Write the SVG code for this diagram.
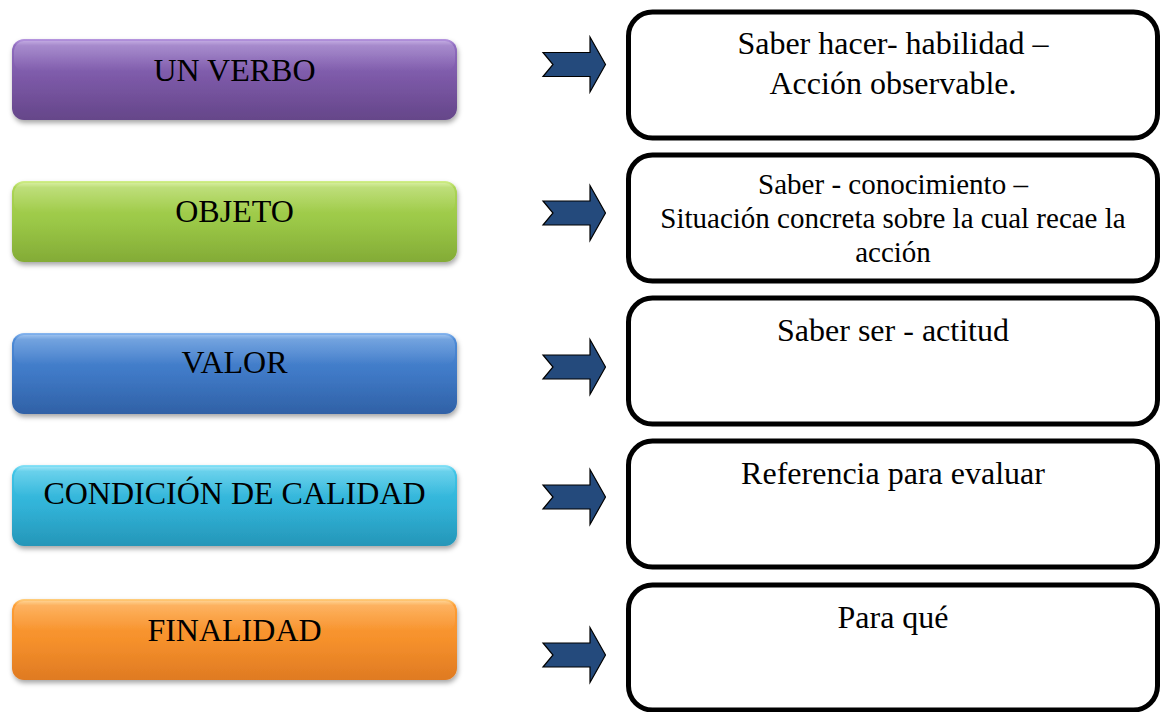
<svg xmlns="http://www.w3.org/2000/svg" xmlns:xlink="http://www.w3.org/1999/xlink" width="1161" height="712" viewBox="0 0 1161 712">
<defs>
<style>
.lbl,.desc,.desc2{font-family:'Liberation Serif',Tinos,'Times New Roman','DejaVu Serif',serif;fill:#000;text-anchor:middle}
.lbl{font-size:32px}
.desc{font-size:32px}
.desc2{font-size:29px}
.card{fill:#fff;stroke:#000;stroke-width:5}
.arrow{fill:#244a7c;stroke:#000;stroke-width:1.2;stroke-linejoin:miter}
.pill{filter:url(#sh)}
.gloss{fill:url(#gloss)}
</style>
<filter id="sh" x="-5%" y="-20%" width="110%" height="150%">
<feDropShadow dx="1" dy="3" stdDeviation="2.5" flood-color="#000" flood-opacity="0.35"/>
</filter>
<linearGradient id="gPurple" x1="0" y1="0" x2="0" y2="1">
<stop offset="0" stop-color="#b797e0"/>
<stop offset="0.08" stop-color="#8f6cbf"/>
<stop offset="0.5" stop-color="#7b58a6"/>
<stop offset="1" stop-color="#654689"/>
</linearGradient>
<linearGradient id="gGreen" x1="0" y1="0" x2="0" y2="1">
<stop offset="0" stop-color="#d2ef8a"/>
<stop offset="0.08" stop-color="#acd555"/>
<stop offset="0.5" stop-color="#9bc847"/>
<stop offset="1" stop-color="#83ab36"/>
</linearGradient>
<linearGradient id="gBlue" x1="0" y1="0" x2="0" y2="1">
<stop offset="0" stop-color="#8ab8f0"/>
<stop offset="0.08" stop-color="#4d8ad6"/>
<stop offset="0.5" stop-color="#3f79c6"/>
<stop offset="1" stop-color="#3061a6"/>
</linearGradient>
<linearGradient id="gCyan" x1="0" y1="0" x2="0" y2="1">
<stop offset="0" stop-color="#8ee4f8"/>
<stop offset="0.08" stop-color="#40c4e6"/>
<stop offset="0.5" stop-color="#31b3d8"/>
<stop offset="1" stop-color="#2596b8"/>
</linearGradient>
<linearGradient id="gOrange" x1="0" y1="0" x2="0" y2="1">
<stop offset="0" stop-color="#ffd080"/>
<stop offset="0.08" stop-color="#fd9d35"/>
<stop offset="0.5" stop-color="#f6912c"/>
<stop offset="1" stop-color="#df7a22"/>
</linearGradient>
<linearGradient id="gloss" x1="0" y1="0" x2="0" y2="1">
<stop offset="0" stop-color="#fff" stop-opacity="0.25"/>
<stop offset="1" stop-color="#fff" stop-opacity="0"/>
</linearGradient>
<path id="arr" d="M543,-12 L590,-12 L590,-27.5 L605.5,0 L590,27.5 L590,12 L543,12 L553,0 Z"/>
</defs>
<rect width="1161" height="712" fill="#fff"/>

<g id="n-verbo">
<rect class="pill" x="12" y="39" width="445" height="81" rx="12" fill="url(#gPurple)"/>
<rect class="gloss" x="14" y="41" width="441" height="30" rx="10"/>
<text class="lbl" x="234.5" y="81" font-family="Liberation Serif, serif">UN VERBO</text>
</g>
<g id="n-objeto">
<rect class="pill" x="12" y="181" width="445" height="81" rx="12" fill="url(#gGreen)"/>
<rect class="gloss" x="14" y="183" width="441" height="30" rx="10"/>
<text class="lbl" x="234.5" y="222">OBJETO</text>
</g>
<g id="n-valor">
<rect class="pill" x="12" y="333" width="445" height="81" rx="12" fill="url(#gBlue)"/>
<rect class="gloss" x="14" y="335" width="441" height="30" rx="10"/>
<text class="lbl" x="234.5" y="373">VALOR</text>
</g>
<g id="n-condicion">
<rect class="pill" x="12" y="465" width="445" height="81" rx="12" fill="url(#gCyan)"/>
<rect class="gloss" x="14" y="467" width="441" height="30" rx="10"/>
<text class="lbl" x="234.5" y="504">CONDICIÓN DE CALIDAD</text>
</g>
<g id="n-finalidad">
<rect class="pill" x="12" y="599" width="445" height="81" rx="12" fill="url(#gOrange)"/>
<rect class="gloss" x="14" y="601" width="441" height="30" rx="10"/>
<text class="lbl" x="234.5" y="641">FINALIDAD</text>
</g>

<g id="connectors">
<use xlink:href="#arr" href="#arr" class="arrow" transform="translate(0,64.5)"/>
<use xlink:href="#arr" href="#arr" class="arrow" transform="translate(0,213)"/>
<use xlink:href="#arr" href="#arr" class="arrow" transform="translate(0,367)"/>
<use xlink:href="#arr" href="#arr" class="arrow" transform="translate(0,497)"/>
<use xlink:href="#arr" href="#arr" class="arrow" transform="translate(0,655)"/>
</g>

<g id="d-verbo">
<rect class="card" x="628.5" y="12" width="529" height="126" rx="24"/>
<text class="desc" x="893" y="54">Saber hacer- habilidad –</text>
<text class="desc" x="893" y="94">Acción observable.</text>
</g>
<g id="d-objeto">
<rect class="card" x="628.5" y="155" width="529" height="126" rx="24"/>
<text class="desc2" x="893" y="194">Saber - conocimiento –</text>
<text class="desc2" x="893" y="228">Situación concreta sobre la cual recae la</text>
<text class="desc2" x="893" y="262">acción</text>
</g>
<g id="d-valor">
<rect class="card" x="628.5" y="298" width="529" height="126" rx="24"/>
<text class="desc" x="893" y="341">Saber ser - actitud</text>
</g>
<g id="d-condicion">
<rect class="card" x="628.5" y="441" width="529" height="126" rx="24"/>
<text class="desc" x="893" y="484">Referencia para evaluar</text>
</g>
<g id="d-finalidad">
<rect class="card" x="628.5" y="585" width="529" height="125" rx="24"/>
<text class="desc" x="893" y="628">Para qué</text>
</g>
</svg>
